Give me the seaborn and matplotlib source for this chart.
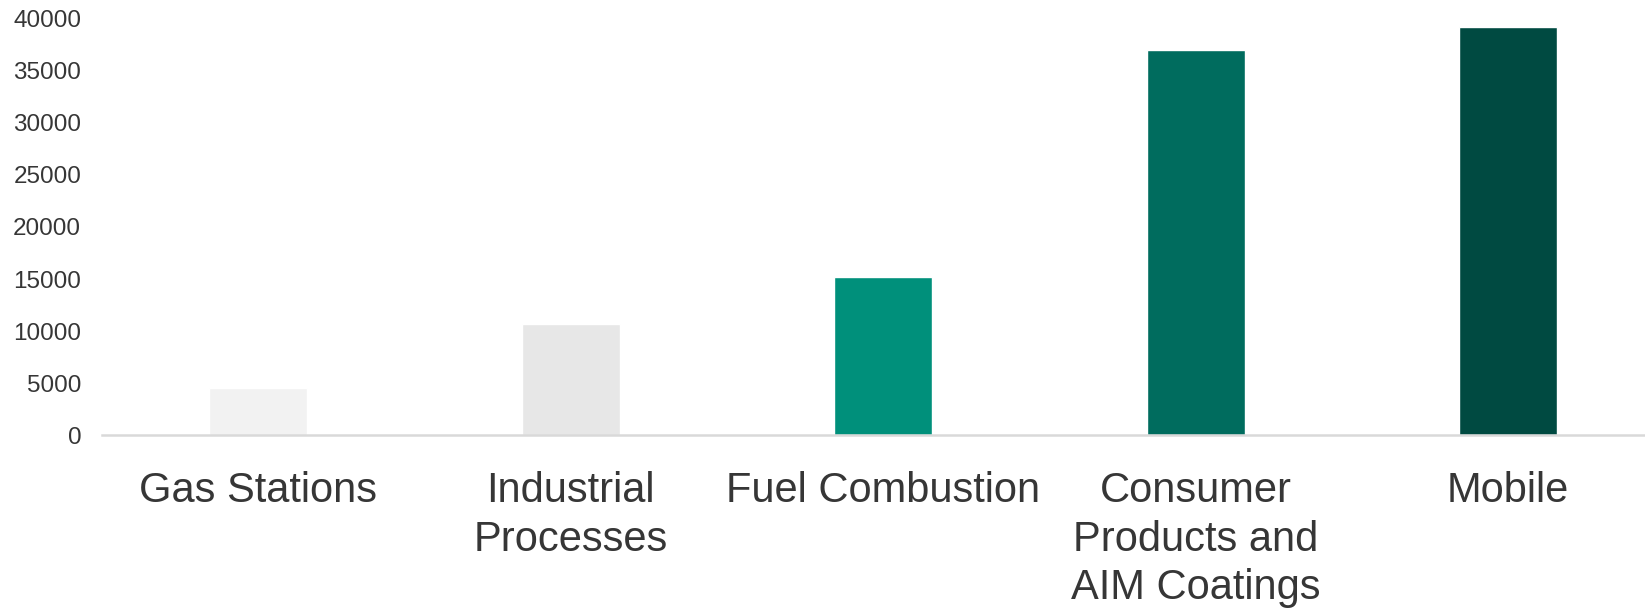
import matplotlib
matplotlib.use("Agg")
import matplotlib.pyplot as plt
import seaborn as sns
import pandas as pd

# Emissions by source category
categories = [
    "Gas Stations",
    "Industrial\nProcesses",
    "Fuel Combustion",
    "Consumer\nProducts and\nAIM Coatings",
    "Mobile",
]
values = [4500, 10700, 15200, 37000, 39200]
bar_colors = ["#f2f2f2", "#e7e7e7", "#00907b", "#006c5e", "#004a41"]
y_ticks = [0, 5000, 10000, 15000, 20000, 25000, 30000, 35000, 40000]

sns.set_theme(style="white")
plt.rcParams["font.family"] = ["Liberation Sans", "DejaVu Sans"]

df = pd.DataFrame({"category": categories, "value": values})

fig = plt.figure(figsize=(16.45, 6.08), dpi=100)
# the plotting area runs slightly past the right edge of the figure
ax = fig.add_axes([0.0620, 0.2845, 0.9498, 0.6843])

sns.barplot(
    data=df, x="category", y="value", hue="category",
    palette=bar_colors, width=0.314, legend=False, ax=ax,
    saturation=1,
)

ax.set_ylim(0, 40000)
ax.set_xlim(-0.5, 4.5)
ax.set_yticks(y_ticks)
ax.set_yticklabels([str(t) for t in y_ticks])
ax.set_xlabel("")
ax.set_ylabel("")

for side in ["top", "right", "left"]:
    ax.spines[side].set_visible(False)
ax.spines["bottom"].set_color("#d9d9d9")
ax.spines["bottom"].set_linewidth(1.8)

text_color = "#363636"
ax.tick_params(axis="y", length=0, pad=15, labelsize=17.5, labelcolor=text_color)
ax.tick_params(axis="x", length=0, pad=26, labelsize=30, labelcolor=text_color)
for lbl in ax.get_xticklabels():
    lbl.set_linespacing(1.27)

fig.savefig("out.png", dpi=100)
